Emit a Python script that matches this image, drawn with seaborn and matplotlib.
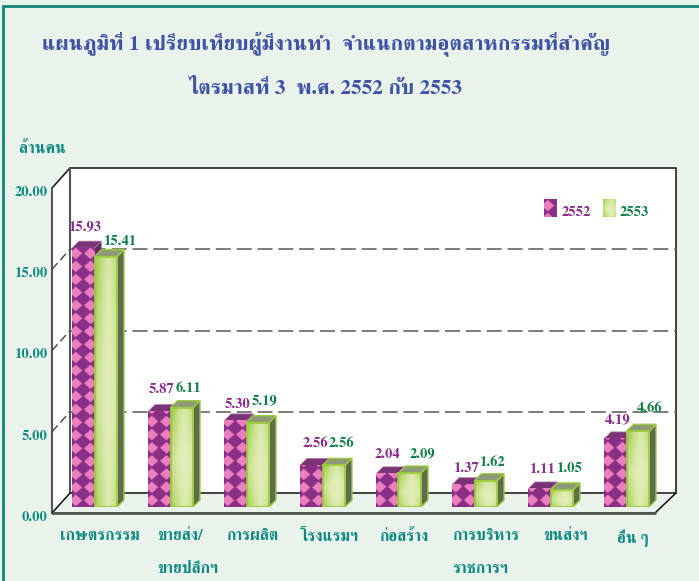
import matplotlib
matplotlib.use('Agg')
import numpy as np, pandas as pd
import matplotlib.pyplot as plt
import seaborn as sns
from matplotlib.patches import Polygon, Rectangle
from matplotlib.transforms import ScaledTranslation

TITLE1 = "แผนภูมิที่ 1 เปรียบเทียบผู้มีงานทำ  จำแนกตามอุตสาหกรรมที่สำคัญ"
TITLE2 = "ไตรมาสที่ 3  พ.ศ. 2552 กับ 2553"
UNIT = "ล้านคน"
categories = ["เกษตรกรรม", "ขายส่ง/\nขายปลีกฯ", "การผลิต", "โรงแรมฯ", "ก่อสร้าง",
              "การบริหาร\nราชการฯ", "ขนส่งฯ", "อื่น ๆ"]
values_2552 = [15.93, 5.87, 5.30, 2.56, 2.04, 1.37, 1.11, 4.19]
values_2553 = [15.41, 6.11, 5.19, 2.56, 2.09, 1.62, 1.05, 4.66]
yticks = [0, 5, 10, 15, 20]
# pixel nudges of the value labels / category labels relative to their bars / ticks
off_2552 = [(1, 21), (2, 22), (2, 16), (4, 22), (0, 19), (3, 16), (3, 19), (2, 19)]
off_2553 = [(14, 15), (7, 19), (7, 22), (8, 22), (13, 19), (6, 18), (7, 21), (12, 23)]
cat_off = [5.5, 17.5, 5.5, 6.5, 5.5, 11.5, 15.5, 6.5]

W, H = 699, 581
BG = '#E9F3EB'; TEAL = '#0F8A82'; BLUE = '#3F52A6'; PUR = '#8A2A8A'; GRN = '#0F8048'
sns.set_style('white')
plt.rcParams['font.family'] = ['FreeSerif', 'Noto Serif Thai', 'DejaVu Sans']
plt.rcParams['font.weight'] = 'bold'

fig = plt.figure(figsize=(W / 100, H / 100), dpi=100, facecolor=BG)
px = fig.add_axes([0, 0, 1, 1]); px.set_xlim(0, W); px.set_ylim(H, 0); px.axis('off')

# frame and 3-D walls
px.plot([3, 3, W], [H, 6, 6], color='#14857C', lw=2, solid_joinstyle='miter')
px.add_patch(Polygon([(70, 168), (676, 168), (676, 493), (70, 493)], fc='white', ec='none'))
px.add_patch(Polygon([(52, 188), (70, 168), (70, 493), (52, 513)], fc='white', ec='none'))
px.plot([52, 70, 676, 676], [188, 168, 168, 493], color='#222222', lw=1.2)
px.plot([70, 70], [168, 493], color='#555555', lw=1.5)
px.plot([52, 52], [188, 513], color='#555555', lw=1.5)
px.plot([52, 70, 676, 655, 52], [513, 493, 493, 513, 513], color='#111111', lw=1.1)
px.plot([52, 655], [513, 513], color='#555555', lw=2)
for v in yticks[1:4]:
    yb = 493 - v * 16.25
    px.plot([70, 676], [yb, yb], color='#666666', lw=1.2, dashes=(9, 3.5))
    px.plot([52, 70], [yb + 20, yb], color='#444444', lw=1, dashes=(6, 3))

# bars
df = pd.DataFrame({'cat': categories * 2,
                   'year': ['2552'] * 8 + ['2553'] * 8,
                   'val': values_2552 + values_2553})
ax = fig.add_axes([56.5 / W, (H - 507) / H, 608 / W, 325 / H])
sns.barplot(data=df, x='cat', y='val', hue='year', order=categories, width=0.592, gap=0,
            palette=['#8A2F86', '#DCEBB0'], legend=False, ax=ax, saturation=1)
ax.patch.set_visible(False)
ax.set_xlim(-0.5, 7.5); ax.set_ylim(0, 20)
ax.set_xlabel(''); ax.set_ylabel('')
sns.despine(ax=ax, left=True, bottom=True)
ax.set_yticks(yticks, [f'{v:.2f}' for v in yticks])
ax.tick_params(axis='both', length=0)
DX, DY = 7 / 76, 7 / 16.25

def argyle(w, h, ss=4):
    yy, xx = np.mgrid[0:h * ss, 0:w * ss] / ss
    f = np.abs((xx / 14.7 + 0.25) % 1 - .5) * 2 + np.abs((yy / 13) % 1 - .5) * 2
    return f < 0.88

def pattern(w, h, c0=(0x8A, 0x2F, 0x86), c1=(0xEC, 0x7F, 0xBE)):
    m = argyle(w, h)
    return np.where(m[..., None], np.array(c1), np.array(c0)).astype(np.uint8)

def gradient(n=60):
    yy, xx = np.mgrid[0:n, 0:n] / (n - 1)
    t = np.clip(np.abs(xx - .6) * 1.2 + np.abs(yy - .55) * .7, 0, 1) ** 2
    a, b = np.array([226, 238, 184.]), np.array([165, 208, 85.])
    return (a + (b - a) * t[..., None]).astype(np.uint8)

n = len(categories)
for k, p in enumerate(ax.patches[:2 * n]):
    x0, w, h = p.get_x(), p.get_width(), p.get_height()
    x1 = x0 + w
    s = 0 if k < n else 1
    z = 3 + 2 * s
    hpx = max(int(round(h * 16.25)), 2)
    if s == 0:
        ax.add_patch(Polygon([(x1, 0), (x1 + DX, DY), (x1 + DX, h + DY), (x1, h)], fc='#5E2A60', ec='none', zorder=z))
        ax.add_patch(Polygon([(x0, h), (x0 + DX, h + DY), (x1 + DX, h + DY), (x1, h)], fc='#7B3377', ec='#A678A4', lw=.5, zorder=z))
        ax.imshow(pattern(23, hpx), extent=(x0, x1, 0, h), aspect='auto', zorder=z + .1,
                  interpolation='bilinear', origin='lower')
        p.set_facecolor('none'); p.set_edgecolor('none'); p.set_zorder(z + .2)
    else:
        ax.add_patch(Polygon([(x1, 0), (x1 + DX, DY), (x1 + DX, h + DY), (x1, h)], fc='#5E6B50', ec='#9CCB3B', lw=1, zorder=z))
        ax.add_patch(Polygon([(x0, h), (x0 + DX, h + DY), (x1 + DX, h + DY), (x1, h)], fc='#8C9A78', ec='#9CCB3B', lw=1, zorder=z))
        ax.imshow(gradient(), extent=(x0, x1, 0, h), aspect='auto', zorder=z + .1, interpolation='bilinear')
        p.set_facecolor('none'); p.set_edgecolor('#9CCB3B'); p.set_linewidth(1.3); p.set_zorder(z + .2)
    vals, off, col = ((values_2552, off_2552, PUR) if s == 0 else (values_2553, off_2553, GRN))
    i = k - s * n
    ax.annotate(f'{vals[i]:.2f}', (x0 + w / 2, vals[i]), xytext=off[i], textcoords='offset pixels',
                ha='center', va='center', color=col, fontsize=10.5, zorder=10, annotation_clip=False)
ax.set_xlim(-0.5, 7.5); ax.set_ylim(0, 20)

# tick labels, shifted onto the 3-D front plane
ax.tick_params(axis='y', pad=6.5, labelcolor=TEAL, labelsize=10.5)
ax.tick_params(axis='x', pad=16, labelcolor=TEAL, labelsize=11.5)
for lab in ax.get_yticklabels():
    lab.set_transform(lab.get_transform() + ScaledTranslation(0, -9 / 100, fig.dpi_scale_trans))
for lab, dx in zip(ax.get_xticklabels(), cat_off):
    lab.set_transform(lab.get_transform() + ScaledTranslation(dx / 100, 0, fig.dpi_scale_trans))
    lab.set_multialignment('left'); lab.set_linespacing(2.75)

# legend
for xs, txt, col, s in [(544, '2552', PUR, 0), (603, '2553', GRN, 1)]:
    img = pattern(13, 18) if s == 0 else gradient()
    px.imshow(img, extent=(xs, xs + 13, 217, 199), aspect='auto', zorder=5, interpolation='bilinear')
    px.text(xs + 18 if s == 0 else xs + 17, 212, txt, color=col, fontsize=10.5, va='center', ha='left')
px.set_xlim(0, W); px.set_ylim(H, 0)

# titles
px.text(326, 44, TITLE1, color=BLUE, fontsize=15.4, ha='center', va='center')
px.text(325, 88, TITLE2, color=BLUE, fontsize=15.4, ha='center', va='center')
px.text(42, 149, UNIT, color=TEAL, fontsize=11.5, ha='center', va='center')

fig.savefig('out.png', dpi=100, facecolor=BG)
